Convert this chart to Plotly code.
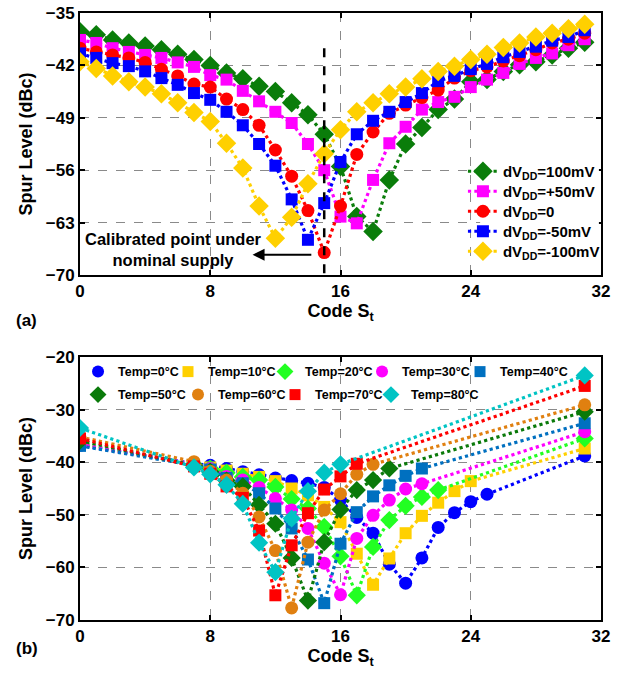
import plotly.graph_objects as go

# ---------------- Panel (a) data ----------------
codes_a = list(range(32))
a_names = ["dV<sub>DD</sub>=100mV", "dV<sub>DD</sub>=+50mV", "dV<sub>DD</sub>=0",
           "dV<sub>DD</sub>=-50mV", "dV<sub>DD</sub>=-100mV"]
a_p100 = [-37.5, -37.9, -38.6, -39.0, -39.4, -39.9, -40.5, -41.2, -42.0, -43.0, -43.8, -44.8,
          -45.5, -47.0, -48.6, -51.2, -55.5, -62.2, -64.2, -57.3, -52.5, -50.3, -47.9, -46.5,
          -44.2, -43.9, -42.8, -41.9, -41.5, -40.6, -39.7, -38.9]
a_p50 = [-38.6, -39.0, -39.7, -40.2, -40.6, -41.0, -41.6, -42.2, -43.3, -43.9, -45.4, -46.8,
         -48.2, -49.7, -52.5, -56.0, -62.2, -63.1, -57.3, -52.4, -50.2, -47.9, -46.9, -46.2,
         -44.9, -43.9, -43.0, -41.8, -41.0, -40.4, -39.3, -38.5]
a_0 = [-39.7, -40.2, -40.6, -41.0, -41.6, -42.5, -43.4, -44.5, -44.9, -46.5, -47.9, -50.0,
       -53.3, -56.8, -61.4, -67.0, -60.8, -53.9, -50.9, -48.4, -47.3, -46.3, -45.3, -43.7,
       -42.7, -42.2, -41.4, -40.7, -39.9, -39.0, -38.5, -37.7]
a_m50 = [-40.4, -41.0, -41.7, -42.1, -42.8, -43.7, -44.6, -45.7, -46.6, -48.2, -50.0, -52.5,
         -55.4, -59.9, -65.3, -60.4, -54.9, -51.2, -49.4, -48.2, -46.9, -45.7, -44.1, -43.4,
         -42.5, -41.8, -40.9, -40.2, -39.5, -38.7, -38.2, -37.3]
a_m100 = [-41.5, -42.4, -43.4, -44.2, -44.9, -45.8, -47.0, -48.3, -49.5, -52.4, -55.7, -60.8,
          -65.1, -62.3, -57.8, -53.8, -50.6, -48.2, -47.0, -45.8, -44.9, -43.8, -42.8, -42.1,
          -41.2, -40.5, -39.6, -39.0, -38.2, -37.7, -37.1, -36.5]
a_series = [a_p100, a_p50, a_0, a_m50, a_m100]
a_colors = ["#0a7d0a", "#ff00ff", "#ff0000", "#0000ff", "#ffd000"]
a_symbols = ["diamond", "square", "circle", "square", "diamond"]
a_sizes = [15, 12, 13, 12, 15]
a_xticks = [0, 8, 16, 24, 32]
a_yticks = [-35, -42, -49, -56, -63, -70]
cal_code = 15
cal_line_top = -39.7

# ---------------- Panel (b) data ----------------
b_names = ["Temp=0°C", "Temp=10°C", "Temp=20°C", "Temp=30°C", "Temp=40°C",
           "Temp=50°C", "Temp=60°C", "Temp=70°C", "Temp=80°C"]
b_t0_x = [0, 7, 8, 9, 10, 11, 12, 13, 14, 15, 16, 17, 18, 19, 20, 21, 22, 23, 24, 25, 31]
b_t0_y = [-36.8, -40.3, -40.6, -41.2, -41.8, -42.4, -43.0, -43.5, -44.0, -44.8, -47.2, -50.5,
          -53.5, -59.4, -63.0, -58.2, -52.4, -49.6, -47.5, -46.1, -38.8]
b_t10_x = [0, 7, 8, 9, 10, 11, 12, 13, 14, 15, 16, 17, 18, 19, 20, 21, 22, 23, 24, 31]
b_t10_y = [-36.5, -40.5, -41.0, -41.6, -42.2, -42.8, -43.6, -45.0, -46.3, -48.5, -51.4, -57.4,
           -63.3, -58.3, -53.5, -50.2, -47.7, -45.5, -43.6, -37.4]
b_t20_x = [0, 7, 8, 9, 10, 11, 12, 13, 14, 15, 16, 17, 18, 19, 20, 21, 22, 31]
b_t20_y = [-36.3, -40.5, -41.2, -42.0, -42.8, -43.4, -44.7, -47.0, -48.8, -52.3, -57.9, -65.3,
           -56.1, -51.0, -48.3, -46.6, -45.3, -35.5]
b_t30_x = [0, 7, 8, 9, 10, 11, 12, 13, 14, 15, 16, 17, 18, 19, 20, 21, 31]
b_t30_y = [-36.6, -40.4, -41.2, -42.7, -43.4, -44.8, -46.9, -49.1, -52.6, -59.2, -65.2, -54.5,
           -50.1, -47.2, -45.1, -44.1, -34.2]
b_t40_x = [0, 7, 8, 9, 10, 11, 12, 13, 14, 15, 16, 17, 18, 19, 20, 21, 31]
b_t40_y = [-36.9, -40.6, -41.4, -43.0, -44.0, -45.9, -48.8, -52.6, -58.5, -66.8, -55.5, -49.5,
           -46.5, -44.4, -42.6, -41.2, -32.6]
b_t50_x = [0, 7, 8, 9, 10, 11, 12, 13, 14, 15, 16, 17, 18, 19, 31]
b_t50_y = [-35.9, -40.6, -41.8, -43.5, -44.6, -48.1, -51.7, -58.2, -66.3, -55.2, -49.0, -45.3,
           -43.4, -41.2, -30.4]
b_t60_x = [0, 7, 8, 9, 10, 11, 12, 13, 14, 15, 16, 17, 18, 31]
b_t60_y = [-35.2, -39.9, -41.7, -43.4, -45.9, -50.4, -56.8, -67.7, -55.2, -49.1, -46.0, -42.3,
           -40.4, -29.1]
b_t70_x = [0, 7, 8, 9, 10, 11, 12, 13, 14, 15, 16, 17, 31]
b_t70_y = [-35.5, -40.8, -42.2, -44.6, -46.8, -53.0, -65.3, -55.8, -49.7, -45.2, -42.7, -40.3,
           -25.5]
b_t80_x = [0, 7, 8, 9, 10, 11, 12, 13, 14, 15, 16, 31]
b_t80_y = [-33.5, -41.0, -42.3, -44.3, -47.9, -55.3, -60.9, -50.7, -45.5, -42.0, -40.4, -23.5]
b_xs = [b_t0_x, b_t10_x, b_t20_x, b_t30_x, b_t40_x, b_t50_x, b_t60_x, b_t70_x, b_t80_x]
b_ys = [b_t0_y, b_t10_y, b_t20_y, b_t30_y, b_t40_y, b_t50_y, b_t60_y, b_t70_y, b_t80_y]
b_colors = ["#0000ff", "#ffd000", "#22ff22", "#ff00ff", "#0070c0",
            "#0a7a0a", "#e08010", "#ff0000", "#00c4c4"]
b_symbols = ["circle", "square", "diamond", "circle", "square",
             "diamond", "circle", "square", "diamond"]
b_sizes = [13, 12, 14, 13, 12, 14, 13, 12, 14]
b_xticks = [0, 8, 16, 24, 32]
b_yticks = [-20, -30, -40, -50, -60, -70]

FONT = "Liberation Sans, Arial, sans-serif"

# legend placement (paper coordinates, one legend box per entry)
a_leg_x = [0.735] * 5
a_leg_y = [0.7661, 0.7331, 0.7002, 0.6672, 0.6343]
b_leg_x = [-0.0038, 0.1689, 0.3551, 0.5413, 0.7294, -0.0038, 0.1881, 0.3743, 0.5585]
b_leg_y = [0.4333] * 5 + [0.3954] * 4

fig = go.Figure()
legend_defs = {}
legfont_a = dict(family=FONT, size=15, color="black", weight="bold")
legfont_b = dict(family=FONT, size=12.5, color="black", weight="bold")

k = 1
for i, (name, ys, col, sym, sz) in enumerate(zip(a_names, a_series, a_colors, a_symbols, a_sizes)):
    lname = "legend" if k == 1 else f"legend{k}"
    fig.add_trace(go.Scatter(
        x=codes_a, y=ys, name=name, mode="lines+markers",
        line=dict(color=col, width=3.2, dash="dot"),
        marker=dict(color=col, symbol=sym, size=sz),
        xaxis="x", yaxis="y", legend=lname))
    legend_defs[lname] = dict(x=a_leg_x[i], y=a_leg_y[i], xanchor="left", yanchor="top",
                              bgcolor="rgba(0,0,0,0)", font=legfont_a, itemwidth=30,
                              borderwidth=0)
    k += 1

for i, (name, xs, ys, col, sym, sz) in enumerate(zip(b_names, b_xs, b_ys, b_colors, b_symbols, b_sizes)):
    lname = f"legend{k}"
    fig.add_trace(go.Scatter(
        x=xs, y=ys, name=name, mode="lines+markers",
        line=dict(color=col, width=3.2, dash="dot"),
        marker=dict(color=col, symbol=sym, size=sz),
        xaxis="x2", yaxis="y2", showlegend=False))
    # legend entry (marker glyph only, like the reference key)
    fig.add_trace(go.Scatter(
        x=[None], y=[None], name=name, mode="markers",
        marker=dict(color=col, symbol=sym, size=sz - 1),
        xaxis="x2", yaxis="y2", legend=lname, showlegend=True))
    legend_defs[lname] = dict(x=b_leg_x[i], y=b_leg_y[i], xanchor="left", yanchor="top",
                              bgcolor="rgba(0,0,0,0)", font=legfont_b, itemwidth=30,
                              borderwidth=0)
    k += 1

tickfont = dict(family=FONT, size=17, color="black", weight="bold")
titlefont = dict(family=FONT, size=18, color="black", weight="bold")
axis_common = dict(showline=True, linecolor="black", linewidth=2, mirror="ticks",
                   ticks="inside", ticklen=5, tickwidth=2, tickcolor="black",
                   showgrid=True, gridcolor="#8a8a8a", griddash="dash", gridwidth=1.3,
                   zeroline=False, tickfont=tickfont, automargin=False)

fig.update_layout(
    width=618, height=674,
    margin=dict(l=80, r=17, t=13, b=54, autoexpand=False),
    paper_bgcolor="white", plot_bgcolor="white",
    showlegend=True,
    xaxis=dict(domain=[0, 1], anchor="y", range=[0, 32], tickvals=a_xticks,
               title=dict(text="Code S<sub>t</sub>", font=titlefont, standoff=2), **axis_common),
    yaxis=dict(domain=[0.5684, 1], anchor="x", range=[-70, -35], tickvals=a_yticks,
               title=dict(text="Spur Level (dBc)", font=titlefont, standoff=8), **axis_common),
    xaxis2=dict(domain=[0, 1], anchor="y2", range=[0, 32], tickvals=b_xticks,
                title=dict(text="Code S<sub>t</sub>", font=titlefont, standoff=2), **axis_common),
    yaxis2=dict(domain=[0, 0.4333], anchor="x2", range=[-70, -20], tickvals=b_yticks,
                title=dict(text="Spur Level (dBc)", font=titlefont, standoff=8), **axis_common),
    **legend_defs,
)

# white key background in panel (a) (hides the grid behind the legend)
fig.add_shape(type="rect", xref="x domain", yref="y domain", x0=0.768, x1=0.996,
              y0=0.05, y1=0.447, fillcolor="white", line=dict(width=0), layer="above")
# calibration marker line and arrow
fig.add_shape(type="line", xref="x", yref="y", x0=cal_code, x1=cal_code,
              y0=cal_line_top, y1=-70, line=dict(color="black", width=2.5, dash="dash"))
fig.add_annotation(xref="x", yref="y", axref="x", ayref="y",
                   x=10.6, y=-67.3, ax=14.3, ay=-67.3, text="", showarrow=True,
                   arrowhead=2, arrowsize=1.2, arrowwidth=2, arrowcolor="black")
fig.add_annotation(xref="x", yref="y", x=5.72, y=-66.6, showarrow=False,
                   text="Calibrated point under<br>nominal supply", align="center",
                   font=dict(family=FONT, size=16.5, color="black", weight="bold"))
fig.add_annotation(xref="paper", yref="paper", x=-0.127, y=0.494, showarrow=False,
                   text="(a)", xanchor="left",
                   font=dict(family=FONT, size=17, color="black", weight="bold"))
fig.add_annotation(xref="paper", yref="paper", x=-0.127, y=-0.066, showarrow=False,
                   text="(b)", xanchor="left",
                   font=dict(family=FONT, size=17, color="black", weight="bold"))

fig.write_html("out.html", config={"displayModeBar": False},
               post_script="document.body.style.margin='0px';")
